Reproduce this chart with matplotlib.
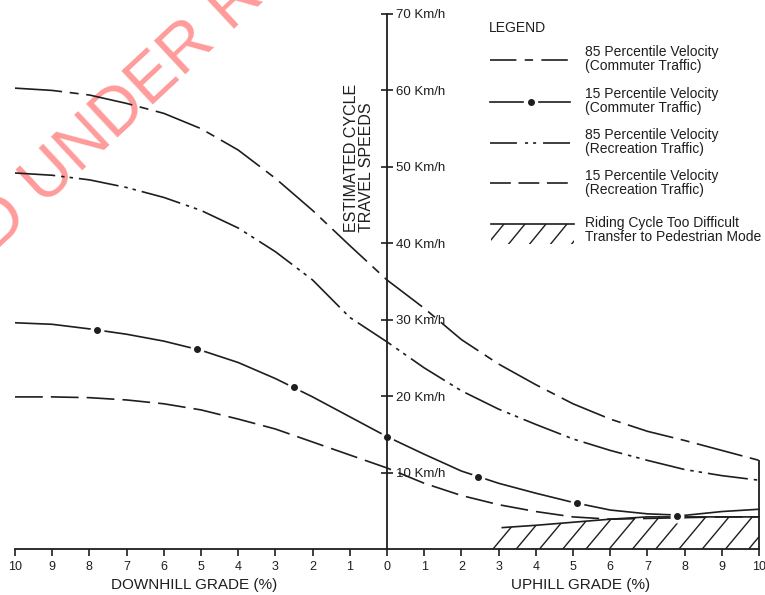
import numpy as np
import matplotlib
matplotlib.use('Agg')
import matplotlib.pyplot as plt
from matplotlib.lines import Line2D
from matplotlib.patches import Rectangle, Polygon

plt.rcParams['font.family'] = ['Liberation Sans', 'DejaVu Sans']
plt.rcParams['lines.scale_dashes'] = False

# Data: grade (%), downhill negative / uphill positive
grades = list(range(-10, 11))
commuter_85 = [60.3, 60.0, 59.4, 58.3, 57.0, 55.0, 52.2, 48.5, 44.3, 39.7, 35.2,
               31.5, 27.4, 24.2, 21.5, 19.0, 17.0, 15.4, 14.2, 12.9, 11.6]
recreation_85 = [49.2, 48.9, 48.3, 47.3, 46.0, 44.3, 42.0, 38.9, 35.2, 30.3, 27.1,
                 23.7, 20.7, 18.3, 16.3, 14.4, 12.9, 11.6, 10.4, 9.6, 9.0]
commuter_15 = [29.6, 29.4, 28.8, 28.1, 27.2, 26.0, 24.4, 22.3, 19.9, 17.3, 14.7,
               12.4, 10.2, 8.6, 7.3, 6.1, 5.1, 4.6, 4.4, 4.9, 5.2]
recreation_15 = [19.9, 19.9, 19.8, 19.5, 19.0, 18.2, 17.0, 15.7, 14.0, 12.3, 10.6,
                 8.6, 7.0, 5.8, 4.9, 4.2, 3.9, 4.0, 4.1, 4.2, 4.2]
commuter_15_dot_grades = [-7.8, -5.1, -2.5, 0, 2.45, 5.1, 7.8]
commuter_15_dot_speeds = [28.7, 26.2, 21.2, 14.7, 9.4, 6.0, 4.3]
difficult_grades = [2.8, 3.1, 4, 5, 6, 7, 8, 9, 10]
difficult_top = [0, 2.8, 3.1, 3.5, 3.9, 4.2, 4.2, 4.2, 4.2]

speed_ticks = [10, 20, 30, 40, 50, 60, 70]
speed_labels = ['%d Km/h' % v for v in speed_ticks]
grade_labels = [str(abs(g)) for g in grades]

legend_labels = ['85 Percentile Velocity\n(Commuter Traffic)',
                 '15 Percentile Velocity\n(Commuter Traffic)',
                 '85 Percentile Velocity\n(Recreation Traffic)',
                 '15 Percentile Velocity\n(Recreation Traffic)',
                 'Riding Cycle Too Difficult\nTransfer to Pedestrian Mode']

W, H = 765, 595
ink = '#1e1e1e'


def fx(px):
    return px / W


def fy(py):
    return 1 - py / H


fig = plt.figure(figsize=(W / 100, H / 100), dpi=100)
# axes placed so that -10 % sits at px 15 and 0 km/h at px 549
ax = fig.add_axes([fx(15), fy(549), fx(W) - fx(15), fy(14) - fy(549)])
ax.set_xlim(-10, -10 + (W - 15) / 37.2)
ax.set_ylim(0, 70)

dash_c85 = (34, 5.5, 6.5, 5.5)
dash_r85 = (29, 4.3, 2.5, 3.6, 2.5, 4.3)
dash_r15 = (20, 5.8)

ax.plot(grades, commuter_85, color=ink, lw=1.2, dashes=dash_c85)
ax.plot(grades, recreation_85, color=ink, lw=1.2, dashes=dash_r85)
ax.plot(grades, recreation_15, color=ink, lw=1.2, dashes=dash_r15)
ax.plot(grades, commuter_15, color=ink, lw=1.2)
ax.plot(commuter_15_dot_grades, commuter_15_dot_speeds, ls='none', marker='o',
        ms=10, mfc='white', mec='none', zorder=2.2)
ax.plot(commuter_15_dot_grades, commuter_15_dot_speeds, ls='none', marker='o',
        ms=4, mfc=ink, mec=ink, zorder=4)

# too difficult zone, hatched by hand (matplotlib hatch is too sparse/dense)
zone = Polygon(list(zip(difficult_grades, difficult_top)) + [(difficult_grades[-1], 0)],
               closed=True, facecolor='none', edgecolor='none')
ax.add_patch(zone)
for b in np.arange(difficult_grades[0] - 1.2, difficult_grades[-1], 0.625):
    hl, = ax.plot([b, b + 1.2], [0, 7], color=ink, lw=1.0)
    hl.set_clip_path(zone)
ax.plot(difficult_grades[1:], difficult_top[1:], color=ink, lw=1.2)
ax.vlines(grades[-1], 0, commuter_85[-1], color=ink, lw=1.3)

# axes styling
for s in ['left', 'top']:
    ax.spines[s].set_visible(False)
ax.spines['right'].set_position(('data', 0))
ax.spines['right'].set_bounds(0, 70)
ax.spines['bottom'].set_bounds(-10, 10)
for s in ['right', 'bottom']:
    ax.spines[s].set_linewidth(1.3)
    ax.spines[s].set_color(ink)
ax.yaxis.tick_right()
ax.set_yticks(speed_ticks)
ax.set_yticklabels(speed_labels)
ax.set_xticks(grades)
ax.set_xticklabels(grade_labels)
ax.tick_params(axis='y', direction='inout', length=9, width=1.2, labelsize=9.5,
               pad=2, colors=ink)
ax.tick_params(axis='x', direction='out', length=5, width=1.2, labelsize=9,
               pad=4, colors=ink)

fig.text(fx(194), fy(585), 'DOWNHILL GRADE (%)', ha='center', va='center',
         fontsize=11, color=ink)
fig.text(fx(581), fy(585), 'UPHILL GRADE (%)', ha='center', va='center',
         fontsize=11, color=ink)
fig.text(fx(359), fy(232), 'ESTIMATED CYCLE\nTRAVEL SPEEDS', rotation=90,
         ha='center', va='bottom', multialignment='left', fontsize=11.5,
         linespacing=1.0, color=ink)

# watermark
ax.text(fx(119), fy(113), 'D UNDER R', rotation=43, fontsize=48, color='#ff7070',
        alpha=0.7, ha='center', va='center', transform=fig.transFigure,
        zorder=1, clip_on=False)

# legend drawn by hand
fig.text(fx(489), fy(28), 'LEGEND', ha='left', va='center', fontsize=10, color=ink)
leg_y = [60, 102, 143, 183, 224]
text_y = [59, 101, 142, 183, 230]
leg_dashes = [(19, 6, 6, 6), None, (19.4, 5.8, 2.2, 3.6, 2.2, 5), (15, 5.5)]

for i, y in enumerate(leg_y[:4]):
    if leg_dashes[i] is None:
        fig.add_artist(Line2D([fx(490), fx(523)], [fy(y), fy(y)], color=ink, lw=1.2,
                              transform=fig.transFigure))
        fig.add_artist(Line2D([fx(539), fx(570)], [fy(y), fy(y)], color=ink, lw=1.2,
                              transform=fig.transFigure))
        fig.add_artist(Line2D([fx(531)], [fy(y)], marker='o', ms=4, color=ink,
                              transform=fig.transFigure))
    else:
        fig.add_artist(Line2D([fx(490), fx(570)], [fy(y), fy(y)], color=ink, lw=1.2,
                              dashes=leg_dashes[i], transform=fig.transFigure))

y = leg_y[4]
fig.add_artist(Line2D([fx(491), fx(574)], [fy(y), fy(y)], color=ink, lw=1.2,
                      transform=fig.transFigure))
box = Rectangle((fx(491), fy(244)), fx(574) - fx(491), fy(y) - fy(244),
                fill=False, lw=0, transform=fig.transFigure)
fig.add_artist(box)
for x0 in range(486, 574, 21):
    st = Line2D([fx(x0), fx(x0 + 18)], [fy(246), fy(224)], color=ink, lw=1.0,
                transform=fig.transFigure)
    fig.add_artist(st)
    st.set_clip_path(box)

for lab, ty in zip(legend_labels, text_y):
    fig.text(fx(585), fy(ty), lab, ha='left', va='center', fontsize=10,
             linespacing=0.95, color=ink)

fig.savefig('out.png', dpi=100)
plt.close(fig)
